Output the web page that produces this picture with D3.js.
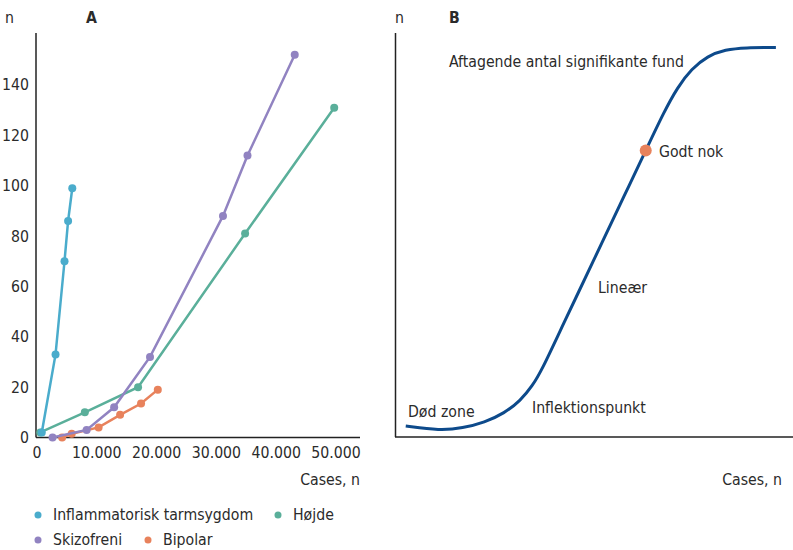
<!DOCTYPE html>
<html>
<head>
<meta charset="utf-8">
<script src="https://cdn.jsdelivr.net/npm/d3@7"></script>
<style>
  body { margin: 0; background: #fff; }
  svg text { font-family: "DejaVu Sans Condensed", "DejaVu Sans", sans-serif; font-stretch: condensed; fill: #2b2b2b; }
</style>
</head>
<body>
<svg id="drawing_region"></svg>
<script>
// Panel A data (cases, significant findings)
const ibd_cases = [800, 3100, 4600, 5200, 5900];
const ibd_n = [2, 33, 70, 86, 99];
const height_cases = [550, 8000, 16900, 34800, 49700];
const height_n = [2, 10, 20, 81, 131];
const scz_cases = [2600, 8300, 12900, 18900, 31100, 35200, 43100];
const scz_n = [0, 3, 12, 32, 88, 112, 152];
const bip_cases = [4200, 5800, 10300, 13900, 17400, 20200];
const bip_n = [0, 1.5, 4, 9, 13.5, 19];

const series_names = ["Inflammatorisk tarmsygdom", "Højde", "Skizofreni", "Bipolar"];
const series_colors = ["#4aaccc", "#5aaf9a", "#9183c1", "#e8825c"];

const x_ticks = [0, 10000, 20000, 30000, 40000, 50000];
const y_ticks = [0, 20, 40, 60, 80, 100, 120, 140];

// Panel B: schematic curve (arbitrary units 0-100)
const curve_x = [2.7, 11.3, 17, 22.5, 27.5, 31.5, 34.5, 37, 41.5, 45.7, 52.3, 57.5, 63, 67.5, 71, 74.5, 78.5, 83, 88, 95.7];
const curve_y = [2.7, 1.6, 2.2, 3.6, 5.9, 9.0, 12.6, 16.8, 26.3, 35.0, 48.7, 59.5, 70.9, 80.3, 86.6, 91.1, 94.3, 95.9, 96.4, 96.4];
const good_enough = { x: 63, y: 70.9 };

const svg = d3.select('#drawing_region')
    .attr('width', 793)
    .attr('height', 550);

const fontSize = '15.7px';

// ---------- Panel A ----------
const xA = d3.scaleLinear().domain([0, 50000]).range([37, 336]);
const yA = d3.scaleLinear().domain([0, 140]).range([437.5, 85]);

svg.append('line')
    .attr('x1', 36).attr('x2', 36)
    .attr('y1', 33).attr('y2', 437.5)
    .attr('stroke', '#222').attr('stroke-width', 1.5);
svg.append('line')
    .attr('x1', 36).attr('x2', 360)
    .attr('y1', 437.5).attr('y2', 437.5)
    .attr('stroke', '#222').attr('stroke-width', 1.5);

svg.append('g').selectAll('text').data(y_ticks).enter()
    .append('text')
    .attr('x', 29)
    .attr('y', d => yA(d))
    .attr('dy', '0.35em')
    .attr('text-anchor', 'end')
    .style('font-size', fontSize)
    .text(d => d);

svg.append('g').selectAll('text').data(x_ticks).enter()
    .append('text')
    .attr('x', d => xA(d))
    .attr('y', 453)
    .attr('dy', '0.35em')
    .attr('text-anchor', 'middle')
    .style('font-size', fontSize)
    .text(d => d === 0 ? '0' : d3.format(',')(d).replace(/,/g, '.'));

svg.append('text').attr('x', 5).attr('y', 18).attr('dy', '0.35em')
    .style('font-size', fontSize).text('n');
svg.append('text').attr('x', 86).attr('y', 18).attr('dy', '0.35em')
    .style('font-size', fontSize).style('font-weight', 'bold').text('A');
svg.append('text').attr('x', 360).attr('y', 480).attr('dy', '0.35em')
    .attr('text-anchor', 'end').style('font-size', fontSize).text('Cases, n');

const seriesA = [
    { name: series_names[0], color: series_colors[0], pts: ibd_cases.map((c, i) => [c, ibd_n[i]]) },
    { name: series_names[1], color: series_colors[1], pts: height_cases.map((c, i) => [c, height_n[i]]) },
    { name: series_names[2], color: series_colors[2], pts: scz_cases.map((c, i) => [c, scz_n[i]]) },
    { name: series_names[3], color: series_colors[3], pts: bip_cases.map((c, i) => [c, bip_n[i]]) }
];
const drawOrder = [1, 3, 2, 0];

const lineA = d3.line().x(d => xA(d[0])).y(d => yA(d[1]));

drawOrder.forEach(k => {
    const s = seriesA[k];
    const g = svg.append('g');
    g.append('path')
        .attr('d', lineA(s.pts))
        .attr('fill', 'none')
        .attr('stroke', s.color)
        .attr('stroke-width', 2.5);
    g.selectAll('circle').data(s.pts).enter()
        .append('circle')
        .attr('cx', d => xA(d[0]))
        .attr('cy', d => yA(d[1]))
        .attr('r', 4)
        .attr('fill', s.color);
});

// legend
const legendPos = [[38, 515], [278, 515], [38, 540], [148, 540]];
seriesA.forEach((s, i) => {
    svg.append('circle')
        .attr('cx', legendPos[i][0]).attr('cy', legendPos[i][1])
        .attr('r', 3.5).attr('fill', s.color);
    svg.append('text')
        .attr('x', legendPos[i][0] + 15).attr('y', legendPos[i][1])
        .attr('dy', '0.35em')
        .style('font-size', fontSize)
        .text(s.name);
});

// ---------- Panel B ----------
const xB = d3.scaleLinear().domain([0, 100]).range([395, 793]);
const yB = d3.scaleLinear().domain([0, 100]).range([437, 33]);

svg.append('line')
    .attr('x1', 395.5).attr('x2', 395.5)
    .attr('y1', 33).attr('y2', 437)
    .attr('stroke', '#222').attr('stroke-width', 1.5);
svg.append('line')
    .attr('x1', 395).attr('x2', 793)
    .attr('y1', 437).attr('y2', 437)
    .attr('stroke', '#222').attr('stroke-width', 1.5);

const lineB = d3.line()
    .x(d => xB(d[0])).y(d => yB(d[1]))
    .curve(d3.curveBasis);

svg.append('path')
    .attr('d', lineB(curve_x.map((x, i) => [x, curve_y[i]])))
    .attr('fill', 'none')
    .attr('stroke', '#0d4a8b')
    .attr('stroke-width', 3);

svg.append('circle')
    .attr('cx', xB(good_enough.x)).attr('cy', yB(good_enough.y))
    .attr('r', 6).attr('fill', '#e8825c');

svg.append('text').attr('x', 395).attr('y', 18).attr('dy', '0.35em')
    .style('font-size', fontSize).text('n');
svg.append('text').attr('x', 449).attr('y', 18).attr('dy', '0.35em')
    .style('font-size', fontSize).style('font-weight', 'bold').text('B');

const labelsB = [
    ['Aftagende antal signifikante fund', 449, 62],
    ['Godt nok', 659, 152],
    ['Lineær', 598, 288],
    ['Inflektionspunkt', 532, 408],
    ['Død zone', 408, 412]
];
labelsB.forEach(l => {
    svg.append('text').attr('x', l[1]).attr('y', l[2]).attr('dy', '0.35em')
        .style('font-size', fontSize).text(l[0]);
});
svg.append('text').attr('x', 782).attr('y', 480).attr('dy', '0.35em')
    .attr('text-anchor', 'end').style('font-size', fontSize).text('Cases, n');
</script>
</body>
</html>
